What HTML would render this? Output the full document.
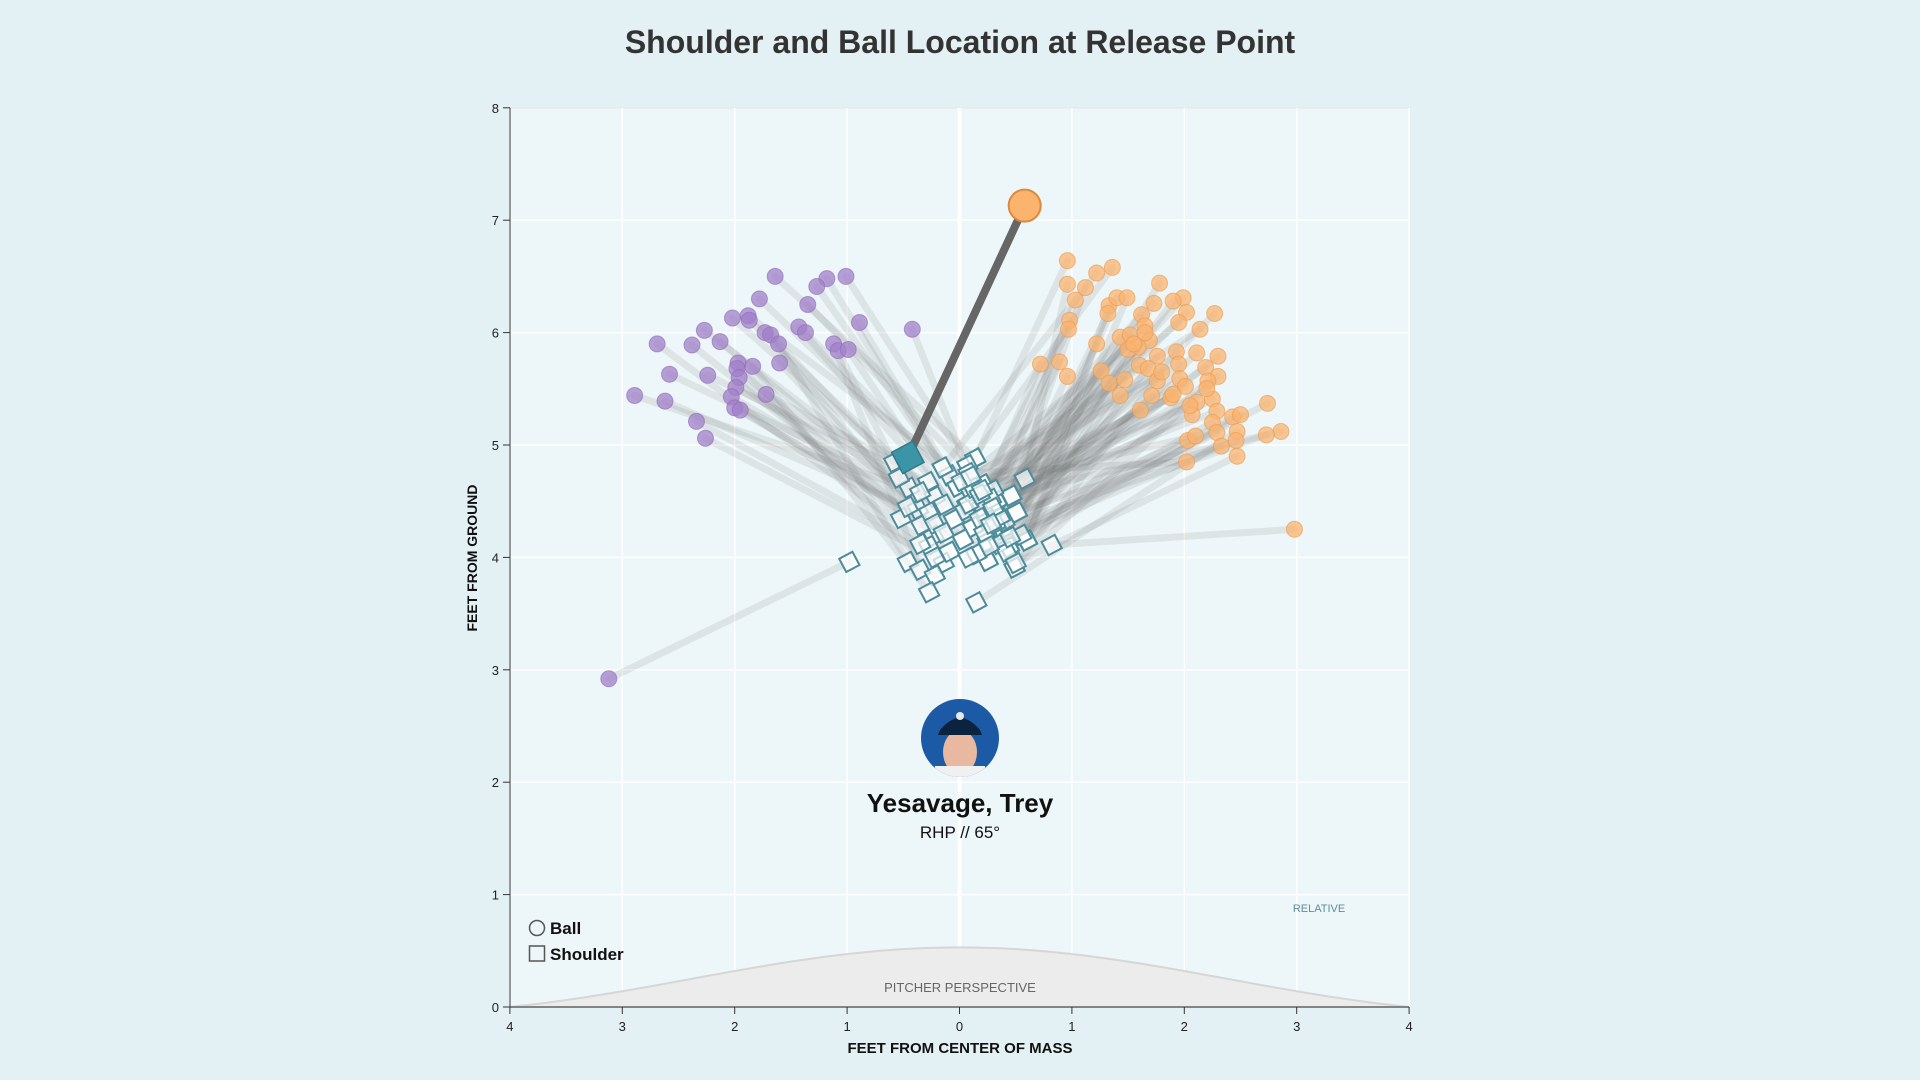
<!DOCTYPE html>
<html><head><meta charset="utf-8"><style>
html,body{margin:0;padding:0;background:#e3f0f4;}
svg{display:block;font-family:"Liberation Sans",sans-serif;}
.tick{font-family:"Liberation Sans",sans-serif;font-size:13px;fill:#222;}
</style></head><body>
<svg id="chart" width="1920" height="1080" viewBox="0 0 1920 1080">
<rect x="0" y="0" width="1920" height="1080" fill="#e3f0f4"/>
<text x="960" y="53" text-anchor="middle" font-size="32" font-weight="bold" fill="#333">Shoulder and Ball Location at Release Point</text>
<rect x="510" y="108" width="899" height="899" fill="#edf6f8" stroke="#dde9ed"/>
<g id="grid"></g>
<path id="mound" d="" fill="#ececec" stroke="#d6d6d6" stroke-width="2"/>
<text x="960" y="992" text-anchor="middle" font-size="13" fill="#666">PITCHER PERSPECTIVE</text>
<g id="lines"></g>
<g id="marks"></g>
<g id="axes"></g>
<text transform="translate(477,558) rotate(-90)" text-anchor="middle" font-size="14" font-weight="bold" fill="#111">FEET FROM GROUND</text>
<text x="960" y="1053" text-anchor="middle" font-size="15" font-weight="bold" fill="#111">FEET FROM CENTER OF MASS</text>
<defs><clipPath id="photoClip"><circle cx="960" cy="738" r="39"/></clipPath></defs>
<g>
<circle cx="960" cy="738" r="39" fill="#1d5aa6"/>
<g clip-path="url(#photoClip)">
<ellipse cx="960" cy="752" rx="17" ry="22" fill="#e8b9a0"/>
<path d="M940 730 Q960 706 980 730 L982 735 L938 735 Z" fill="#0c2340"/>
<rect x="935" y="766" width="50" height="20" fill="#f0f0f0"/>
</g>
<circle cx="960" cy="716" r="4" fill="#e8e8e8"/>
</g>
<text x="960" y="812" text-anchor="middle" font-size="26" font-weight="bold" fill="#111">Yesavage, Trey</text>
<text x="960" y="838" text-anchor="middle" font-size="17" fill="#111">RHP // 65°</text>
<text x="1319" y="912" text-anchor="middle" font-size="11" fill="#5b8ea0">RELATIVE</text>
<g>
<g>
<circle cx="537" cy="928" r="7.5" fill="none" stroke="#555" stroke-width="1.5"/>
<text x="550" y="934" font-size="17" font-weight="bold" fill="#111">Ball</text></g>
<g>
<rect x="529.5" y="946" width="15" height="15" fill="none" stroke="#555" stroke-width="1.5"/>
<text x="550" y="960" font-size="17" font-weight="bold" fill="#111">Shoulder</text></g>
</g>
</svg>
<script>
// pitch type: 0 = purple (39 pitches), 1 = orange (75 pitches)
const pitchType = [0,0,0,0,0,0,0,0,0,0,0,0,0,0,0,0,0,0,0,0,0,0,0,0,0,0,0,0,0,0,0,0,0,0,0,0,0,0,0,
1,1,1,1,1,1,1,1,1,1,1,1,1,1,1,
1,1,1,1,1,1,1,1,1,1,1,1,1,1,1,
1,1,1,1,1,1,1,1,1,1,1,1,1,1,1,
1,1,1,1,1,1,1,1,1,1,1,1,1,1,1,
1,1,1,1,1,1,1,1,1,1,1,1,1,1,1];
const ballX = [-1.64,-1.01,-1.18,-1.27,-1.78,-1.35,-1.88,-2.02,-1.87,-0.89,-0.42,-2.27,-1.43,-1.37,-1.73,-1.68,-2.69,-2.38,-2.13,-1.61,-1.12,-1.08,-0.99,-1.97,-1.84,-1.6,-1.98,-1.96,-2.58,-2.24,-1.99,-1.72,-2.89,-2.62,-2.03,-2.0,-1.95,-2.34,-2.26,
0.96,1.36,1.22,0.96,1.12,1.03,1.78,1.99,1.9,1.73,1.33,1.4,1.49,1.32,2.27,2.02,0.98,0.97,1.62,1.65,1.95,2.14,1.43,1.52,1.69,1.59,1.22,1.5,1.76,1.93,2.11,2.3,0.72,0.89,1.6,1.95,2.19,1.26,1.68,0.96,1.47,1.33,1.76,1.96,2.3,2.21,2.01,1.71,1.43,1.88,2.11,2.25,2.74,1.61,2.07,2.29,2.43,2.5,2.25,2.47,2.86,2.73,2.03,2.1,2.29,2.33,2.46,2.47,2.02,1.65,1.8,1.55,2.2,2.05,1.9];
const ballY = [6.5,6.5,6.48,6.41,6.3,6.25,6.15,6.13,6.11,6.09,6.03,6.02,6.05,6.0,6.0,5.98,5.9,5.89,5.92,5.9,5.9,5.84,5.85,5.73,5.7,5.73,5.68,5.6,5.63,5.62,5.51,5.45,5.44,5.39,5.43,5.33,5.31,5.21,5.06,
6.64,6.58,6.53,6.43,6.4,6.29,6.44,6.31,6.28,6.26,6.24,6.31,6.31,6.17,6.17,6.18,6.11,6.03,6.16,6.06,6.09,6.03,5.96,5.98,5.93,5.87,5.9,5.85,5.79,5.83,5.82,5.79,5.72,5.74,5.71,5.72,5.69,5.66,5.68,5.61,5.58,5.55,5.57,5.59,5.61,5.57,5.52,5.44,5.44,5.42,5.38,5.41,5.37,5.31,5.27,5.3,5.25,5.27,5.2,5.12,5.12,5.09,5.04,5.08,5.11,4.99,5.04,4.9,4.85,6.0,5.65,5.9,5.5,5.35,5.45];
const shX = [0.14,0.07,-0.15,-0.09,-0.02,0.21,0.33,-0.22,-0.14,0.07,0.23,-0.05,0.12,0.38,-0.23,0.03,-0.27,-0.09,0.15,-0.46,-0.35,-0.14,0.25,-0.22,-0.27,-0.37,-0.34,-0.52,-0.45,-0.28,-0.54,-0.58,-0.35,-0.46,-0.27,-0.22,-0.14,-0.35,-0.22,
0.14,0.07,-0.15,0.58,0.46,0.33,0.51,0.23,0.38,0.25,0.6,0.44,0.49,0.25,0.15,0.03,-0.09,0.12,-0.05,0.07,0.21,-0.02,0.46,0.33,0.51,0.23,0.38,0.6,0.44,0.49,0.25,0.15,0.03,0.12,0.07,0.21,0.33,0.23,0.38,0.25,0.44,0.15,0.03,0.12,0.49,0.6,0.46,0.51,0.3,0.1,0.2,0.4,0.55,0.05,0.18,0.28,0.35,0.42,0.08,0.15,0.08,0.22,0.32,0.12,0.26,0.36,0.45,0.5,0.08,0.02,0.1,0.18,0.3,0.2,0.28];
const shY = [4.88,4.82,4.8,4.73,4.63,4.65,4.5,4.54,4.47,4.47,4.38,4.34,4.27,4.25,4.19,4.16,4.1,4.05,4.03,3.96,3.89,3.95,3.97,3.84,3.69,4.43,4.29,4.35,4.62,4.67,4.71,4.85,4.58,4.45,4.4,4.3,4.22,4.12,4.0,
4.88,4.82,4.8,4.7,4.55,4.5,4.4,4.38,4.25,4.14,4.15,4.09,3.91,3.97,4.03,4.16,4.05,4.27,4.34,4.47,4.65,4.63,4.55,4.5,4.4,4.38,4.25,4.15,4.09,3.91,3.97,4.03,4.16,4.27,4.47,4.65,4.5,4.38,4.25,4.14,4.09,4.03,4.16,4.27,3.91,4.15,4.55,4.4,4.6,4.58,4.45,4.32,4.2,4.42,4.35,4.52,4.12,4.05,4.0,3.6,4.48,4.22,4.3,4.62,4.1,4.36,4.18,3.95,4.75,4.68,4.72,4.56,4.44,4.6,4.3];
// special pitches
const outlierBall = [[-3.12,2.92],[2.98,4.25]];
const outlierShoulder = [[-0.98,3.96],[0.82,4.11]];
const outlierType = [0,1];
const highlightBall = [0.58,7.13];
const highlightShoulder = [-0.46,4.89];
const xTicks = [-4,-3,-2,-1,0,1,2,3,4];
const yTicks = [0,1,2,3,4,5,6,7,8];

const NS = "http://www.w3.org/2000/svg";
const X = v => 959.5 + v*112.4;
const Y = v => 1007 - v*112.4;
function mk(tag, attrs, parent){const e=document.createElementNS(NS,tag);for(const k in attrs)e.setAttribute(k,attrs[k]);parent.appendChild(e);return e;}
const grid=document.getElementById('grid'), axes=document.getElementById('axes'), lines=document.getElementById('lines'), marks=document.getElementById('marks');

xTicks.forEach(t=>{
  const g=mk('line',{x1:X(t),x2:X(t),y1:108,y2:1007,stroke:'#ffffff','stroke-width':t===0?4:1.5},grid);
  
  
  mk('line',{x1:X(t),x2:X(t),y1:1007,y2:1014,stroke:'#333','stroke-width':1},axes);
  const tx=mk('text',{x:X(t),y:1031,'text-anchor':'middle',class:'tick'},axes);
  tx.textContent=Math.abs(t);
  
  
});
yTicks.forEach(t=>{
  if(t>0&&t<8){const g=mk('line',{x1:510,x2:1409,y1:Y(t),y2:Y(t),stroke:'#ffffff','stroke-width':1.5},grid);
  
  }
  mk('line',{x1:503,x2:510,y1:Y(t),y2:Y(t),stroke:'#333','stroke-width':1},axes);
  const tx=mk('text',{x:499,y:Y(t)+5,'text-anchor':'end',class:'tick'},axes);
  tx.textContent=t;
  
  
});
mk('line',{x1:510,x2:510,y1:108,y2:1007,stroke:'#333','stroke-width':1},axes);
mk('line',{x1:510,x2:1409,y1:1007,y2:1007,stroke:'#333','stroke-width':1},axes);

// mound
(function(){let d='M'+X(-4)+' '+Y(0);for(let i=0;i<=80;i++){const v=-4+i*0.1;const c=Math.cos(v/4*Math.PI/2);d+=' L'+X(v)+' '+Y(0.53*(0.5*c*c+0.5*c));}d+=' Z';document.getElementById('mound').setAttribute('d',d);})();

const colors=['#a27fc9','#fbb36d'], strokes=['#8d6ab8','#e89a52'];
function line(bx,by,sx,sy){
  const l=mk('line',{x1:X(bx),y1:Y(by),x2:X(sx),y2:Y(sy),stroke:'rgba(110,110,110,0.13)','stroke-width':7,'stroke-linecap':'round'},lines);
  
  
}
function ball(bx,by,t,r){
  const k=t===0?0:1;
  const c=mk('circle',{cx:X(bx),cy:Y(by),r:r,fill:colors[k],'fill-opacity':0.75,stroke:strokes[k],'stroke-opacity':0.6,'stroke-width':1},marks);
  
  
}
function shoulder(sx,sy,s,fill,op){
  const cx=X(sx),cy=Y(sy);
  const r=mk('rect',{x:cx-s/2,y:cy-s/2,width:s,height:s,fill:fill,'fill-opacity':op,stroke:'#4d8c9a','stroke-width':2,transform:'rotate(-28 '+cx+' '+cy+')'},marks);
  
  
}
for(let i=0;i<ballX.length;i++) line(ballX[i],ballY[i],shX[i],shY[i]);
outlierBall.forEach((b,i)=>line(b[0],b[1],outlierShoulder[i][0],outlierShoulder[i][1]));
for(let i=0;i<ballX.length;i++) shoulder(shX[i],shY[i],15,'#ffffff',0.7);
outlierShoulder.forEach(s=>shoulder(s[0],s[1],15,'#ffffff',0.7));
for(let i=0;i<ballX.length;i++) ball(ballX[i],ballY[i],pitchType[i],8);
outlierBall.forEach((b,i)=>ball(b[0],b[1],outlierType[i],8));
// highlighted pitch
const hl=mk('line',{x1:X(highlightBall[0]),y1:Y(highlightBall[1]),x2:X(highlightShoulder[0]),y2:Y(highlightShoulder[1]),stroke:'#666','stroke-width':8},marks);


const hs=mk('rect',{x:X(highlightShoulder[0])-12,y:Y(highlightShoulder[1])-12,width:24,height:24,fill:'#3c95a6',stroke:'#2f7a88','stroke-width':1.5,transform:'rotate(-28 '+X(highlightShoulder[0])+' '+Y(highlightShoulder[1])+')'},marks);


const hb=mk('circle',{cx:X(highlightBall[0]),cy:Y(highlightBall[1]),r:16,fill:'#fbb36d',stroke:'#d98a42','stroke-width':2},marks);


</script>
</body></html>
